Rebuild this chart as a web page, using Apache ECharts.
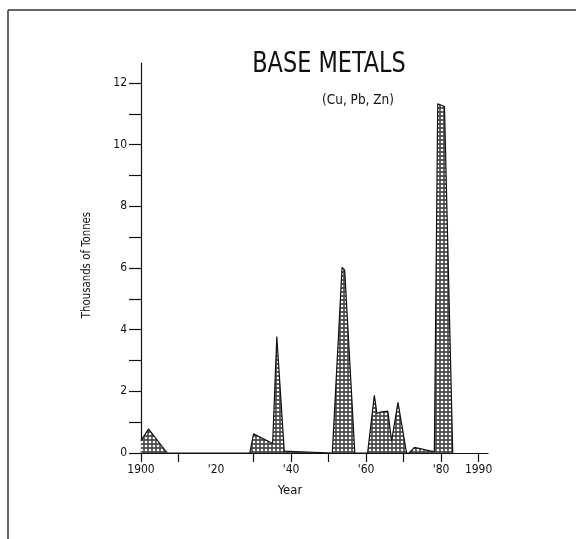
<!DOCTYPE html>
<html>
<head>
<meta charset="utf-8">
<script src="https://cdn.jsdelivr.net/npm/echarts@6/dist/echarts.min.js"></script>
<style>
html,body{margin:0;padding:0;background:#fff;}
#chart{width:576px;height:539px;}
</style>
</head>
<body>
<div id="chart"></div>
<script>
// ---- Data ----
const years = [1900, 1902, 1907, 1929, 1930, 1935.1, 1936.2, 1938.2, 1939.4, 1939.7,
  1951, 1953.6, 1954.3, 1957, 1960.4, 1962.2, 1962.9, 1963.8, 1965.8, 1966.8, 1968.5, 1970.8,
  1971.5, 1972.9, 1977.6, 1978.2, 1979.1, 1980.9, 1983.1];
const tonnes = [0.4, 0.78, 0, 0, 0.62, 0.31, 3.78, 0.05, 0.05, 0,
  0, 6.02, 5.93, 0, 0, 1.87, 1.28, 1.33, 1.36, 0.39, 1.64, 0,
  0, 0.18, 0.05, 0.05, 11.33, 11.24, 0];
const xTickValues = [1900, 1910, 1930, 1940, 1950, 1960, 1970, 1980, 1990];
const xLabelValues = [1900, 1920, 1940, 1960, 1980, 1990];
const xLabelTexts = ['1900', "'20", "'40", "'60", "'80", '1990'];
const yTickValues = [0,1,2,3,4,5,6,7,8,9,10,11,12];
const yLabelValues = [0,2,4,6,8,10,12];

const FONT = '"DejaVu Sans Condensed", "Liberation Sans Narrow", sans-serif';

// stipple pattern
const pc = document.createElement('canvas');
pc.width = 4; pc.height = 4;
const pctx = pc.getContext('2d');
pctx.fillStyle = '#4a4a4a';
pctx.fillRect(0, 0, 4, 4);
pctx.fillStyle = '#ffffff';
pctx.beginPath();
pctx.arc(2, 2, 1.35, 0, Math.PI * 2);
pctx.fill();

const chart = echarts.init(document.getElementById('chart'), null, {renderer: 'canvas'});
chart.setOption({
  backgroundColor: '#fff',
  animation: false,
  graphic: [
    {type: 'line', shape: {x1: 8, y1: 10, x2: 8, y2: 539}, style: {stroke: '#333', lineWidth: 1.5}},
    {type: 'line', shape: {x1: 8, y1: 10, x2: 576, y2: 10}, style: {stroke: '#333', lineWidth: 1.5}},
    {type: 'text', x: 329, y: 65, scaleX: 0.89,
     style: {text: 'BASE METALS', fontFamily: FONT, fontSize: 28, fill: '#111',
             align: 'center', verticalAlign: 'middle'}},
    {type: 'text', x: 358, y: 100, scaleX: 0.96,
     style: {text: '(Cu, Pb, Zn)', fontFamily: FONT, fontSize: 14, fill: '#111',
             align: 'center', verticalAlign: 'middle'}},
    {type: 'text', x: 290, y: 491,
     style: {text: 'Year', fontFamily: FONT, fontSize: 13, fill: '#111',
             align: 'center', verticalAlign: 'middle'}},
    {type: 'text', x: 87, y: 265, rotation: Math.PI / 2, scaleX: 0.87,
     style: {text: 'Thousands of Tonnes', fontFamily: FONT, fontSize: 13, fill: '#111',
             align: 'center', verticalAlign: 'middle'}}
  ],
  grid: {left: 141, right: 88, top: 63, bottom: 86, containLabel: false},
  xAxis: {
    type: 'value', min: 1900, max: 1992.5,
    splitLine: {show: false},
    axisLine: {show: true, onZero: false, lineStyle: {color: '#111', width: 1.2}},
    axisTick: {show: true, length: 9, customValues: xTickValues, lineStyle: {color: '#111', width: 1.2}},
    axisLabel: {customValues: xLabelValues, margin: 11, color: '#111', fontFamily: FONT, fontSize: 12,
      formatter: function (v) { const i = xLabelValues.indexOf(v); return i >= 0 ? xLabelTexts[i] : ''; }}
  },
  yAxis: {
    type: 'value', min: 0, max: 12.65,
    splitLine: {show: false},
    axisLine: {show: true, lineStyle: {color: '#111', width: 1.2}},
    axisTick: {show: true, length: 12, customValues: yTickValues, lineStyle: {color: '#111', width: 1.2}},
    axisLabel: {customValues: yLabelValues, margin: 14, color: '#111', fontFamily: FONT, fontSize: 12}
  },
  series: [{
    type: 'line',
    data: years.map((y, i) => [y, tonnes[i]]),
    symbol: 'none',
    lineStyle: {color: '#111', width: 1.2},
    areaStyle: {color: {image: pc, repeat: 'repeat'}, opacity: 1, origin: 'start'},
    z: 1
  }]
});
</script>
</body>
</html>
